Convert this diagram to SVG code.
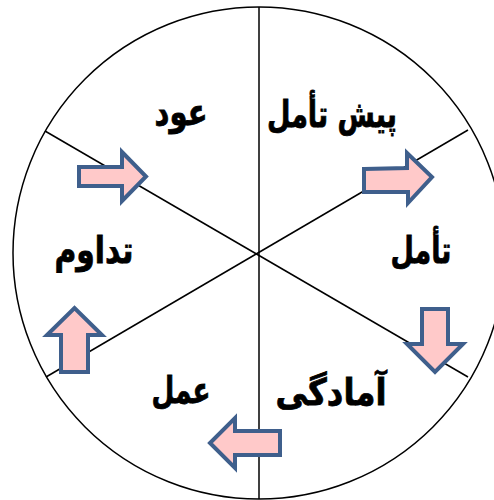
<svg xmlns="http://www.w3.org/2000/svg" width="494" height="500" viewBox="0 0 494 500">
<style>
.arrow{fill:#FFC9C9;stroke:#3F5F8C;stroke-width:4;stroke-linejoin:miter}
.lbl{font-family:"DejaVu Sans","Noto Sans",sans-serif;font-weight:bold;font-size:37px;fill:#000;stroke:#000;stroke-width:0.8;text-anchor:middle}
.div{stroke:#000;stroke-width:1.5;fill:none}
</style>
<rect width="494" height="500" fill="#fff"/>
<g id="wheel">
<circle cx="259" cy="253" r="246" fill="#fff" stroke="#000" stroke-width="1.5"/>
</g>
<g id="connectors">
<line class="div" x1="259" y1="7" x2="259" y2="499"/>
<line class="div" x1="45" y1="131" x2="468" y2="377"/>
<line class="div" x1="468" y1="130" x2="46" y2="377"/>
</g>
<g id="arrows">
<path id="arrow1" class="arrow" d="M79,167 L122,167 L122,152 L146,176.5 L122,201 L122,186 L79,186 Z"/>
<path id="arrow2" class="arrow" d="M364,169 L407,168 L407,153 L432,177 L408,203 L408,192 L364,192 Z"/>
<path id="arrow3" class="arrow" d="M422,309 L448,309 L448,344 L463,344 L435,372 L407,344 L422,344 Z"/>
<path id="arrow4" class="arrow" d="M280,431 L235,431 L235,418 L210,443 L235,468 L235,455 L280,455 Z"/>
<path id="arrow5" class="arrow" d="M61,372 L88,372 L88,335 L102,335 L74.5,308 L47,335 L61,335 Z"/>
</g>
<g id="n-oud"><text class="lbl" x="181" y="125" textLength="53" lengthAdjust="spacingAndGlyphs">عود</text></g>
<g id="n-pishtaamol"><text class="lbl" x="332" y="127" textLength="130" lengthAdjust="spacingAndGlyphs">پیش تأمل</text></g>
<g id="n-taamol"><text class="lbl" x="421" y="263" textLength="61" lengthAdjust="spacingAndGlyphs">تأمل</text></g>
<g id="n-tadavom"><text class="lbl" x="94" y="263" textLength="79" lengthAdjust="spacingAndGlyphs">تداوم</text></g>
<g id="n-amal"><text class="lbl" x="181" y="403" textLength="59" lengthAdjust="spacingAndGlyphs">عمل</text></g>
<g id="n-amadegi"><text class="lbl" x="331" y="405" textLength="111" lengthAdjust="spacingAndGlyphs">آمادگی</text></g>
</svg>
